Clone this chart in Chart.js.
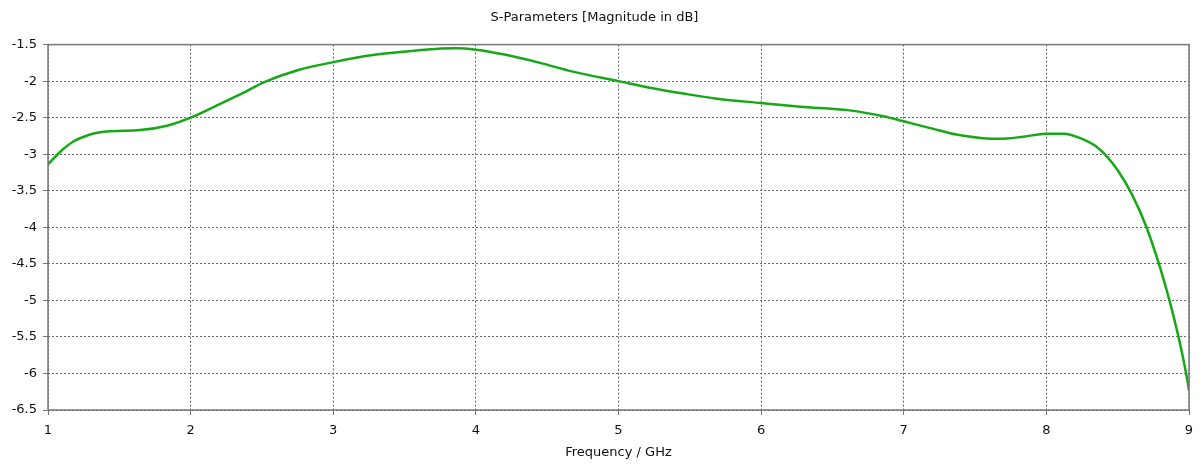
<!DOCTYPE html>
<html>
<head>
<meta charset="utf-8">
<script src="https://cdn.jsdelivr.net/npm/chart.js@4.4.0/dist/chart.umd.min.js"></script>
<style>
  html, body { margin: 0; padding: 0; background: #fff; }
  #wrap { width: 1204px; height: 464px; }
</style>
</head>
<body>
<div id="wrap"><canvas id="chart"></canvas></div>
<script>
const frequencies = [1, 1.084, 1.175, 1.295, 1.41, 1.645, 1.835, 2, 2.24, 2.38, 2.52, 2.75, 3,
  3.29, 3.53, 3.76, 3.86, 4, 4.21, 4.45, 4.68, 5, 5.22, 5.455, 5.69, 6, 6.275, 6.62, 6.857, 7,
  7.2, 7.367, 7.555, 7.67, 7.84, 8, 8.12, 8.237, 8.354, 8.424, 8.5, 8.6, 8.7,
  8.8, 8.86, 8.93, 8.98, 9];
const magnitudeDb = [-3.14, -2.97, -2.83, -2.73, -2.69, -2.67, -2.61, -2.5, -2.28, -2.15, -2.01, -1.85, -1.74,
  -1.64, -1.59, -1.555, -1.55, -1.57, -1.64, -1.75, -1.87, -2.0, -2.09, -2.17, -2.24, -2.3, -2.35, -2.4, -2.48, -2.55,
  -2.65, -2.73, -2.78, -2.79, -2.76, -2.72, -2.72, -2.78, -2.9, -3.03, -3.22, -3.55, -3.99,
  -4.57, -4.98, -5.53, -6.0, -6.23];
const xTicks = [1, 2, 3, 4, 5, 6, 7, 8, 9];
const yTicks = [-1.5, -2, -2.5, -3, -3.5, -4, -4.5, -5, -5.5, -6, -6.5];

const FONT = { family: '"DejaVu Sans", Verdana, sans-serif', size: 13 };

// solid frame around the plot area
const framePlugin = {
  id: 'frame',
  afterDatasetsDraw(chart) {
    const { ctx, chartArea: a } = chart;
    ctx.save();
    ctx.strokeStyle = '#777';
    ctx.lineWidth = 1.5;
    ctx.strokeRect(a.left, a.top, a.right - a.left, a.bottom - a.top);
    ctx.restore();
  }
};

new Chart(document.getElementById('chart'), {
  type: 'line',
  data: {
    datasets: [{
      data: frequencies.map((f, i) => ({ x: f, y: magnitudeDb[i] })),
      borderColor: '#16a816',
      borderWidth: 2.5,
      pointRadius: 0,
      fill: false,
      cubicInterpolationMode: 'monotone'
    }]
  },
  options: {
    responsive: true,
    maintainAspectRatio: false,
    animation: false,
    layout: { padding: { left: 0, right: 15, top: 0, bottom: 0 } },
    plugins: {
      legend: { display: false },
      tooltip: { enabled: false },
      title: {
        display: true,
        text: 'S-Parameters [Magnitude in dB]',
        color: '#111',
        font: { ...FONT, weight: 'normal' },
        padding: { top: 10, bottom: 19 }
      }
    },
    scales: {
      x: {
        type: 'linear',
        min: 1,
        max: 9,
        afterBuildTicks: s => { s.ticks = xTicks.map(v => ({ value: v })); },
        afterFit: s => { s.height = 54; },
        ticks: { color: '#111', font: FONT, padding: 8, callback: v => String(v) },
        grid: { color: '#666', lineWidth: 1, tickLength: 5, tickColor: '#777' },
        border: { display: false, dash: [2, 2] },
        title: { display: true, text: 'Frequency / GHz', color: '#111', font: FONT, padding: { top: 2, bottom: 4 } }
      },
      y: {
        min: -6.5,
        max: -1.5,
        afterBuildTicks: s => { s.ticks = yTicks.map(v => ({ value: v })); },
        afterFit: s => { s.width = 48; },
        ticks: { color: '#111', font: FONT, padding: 6, callback: v => String(v) },
        grid: { color: '#666', lineWidth: 1, tickLength: 5, tickColor: '#777' },
        border: { display: false, dash: [2, 2] }
      }
    }
  },
  plugins: [framePlugin]
});
</script>
</body>
</html>
